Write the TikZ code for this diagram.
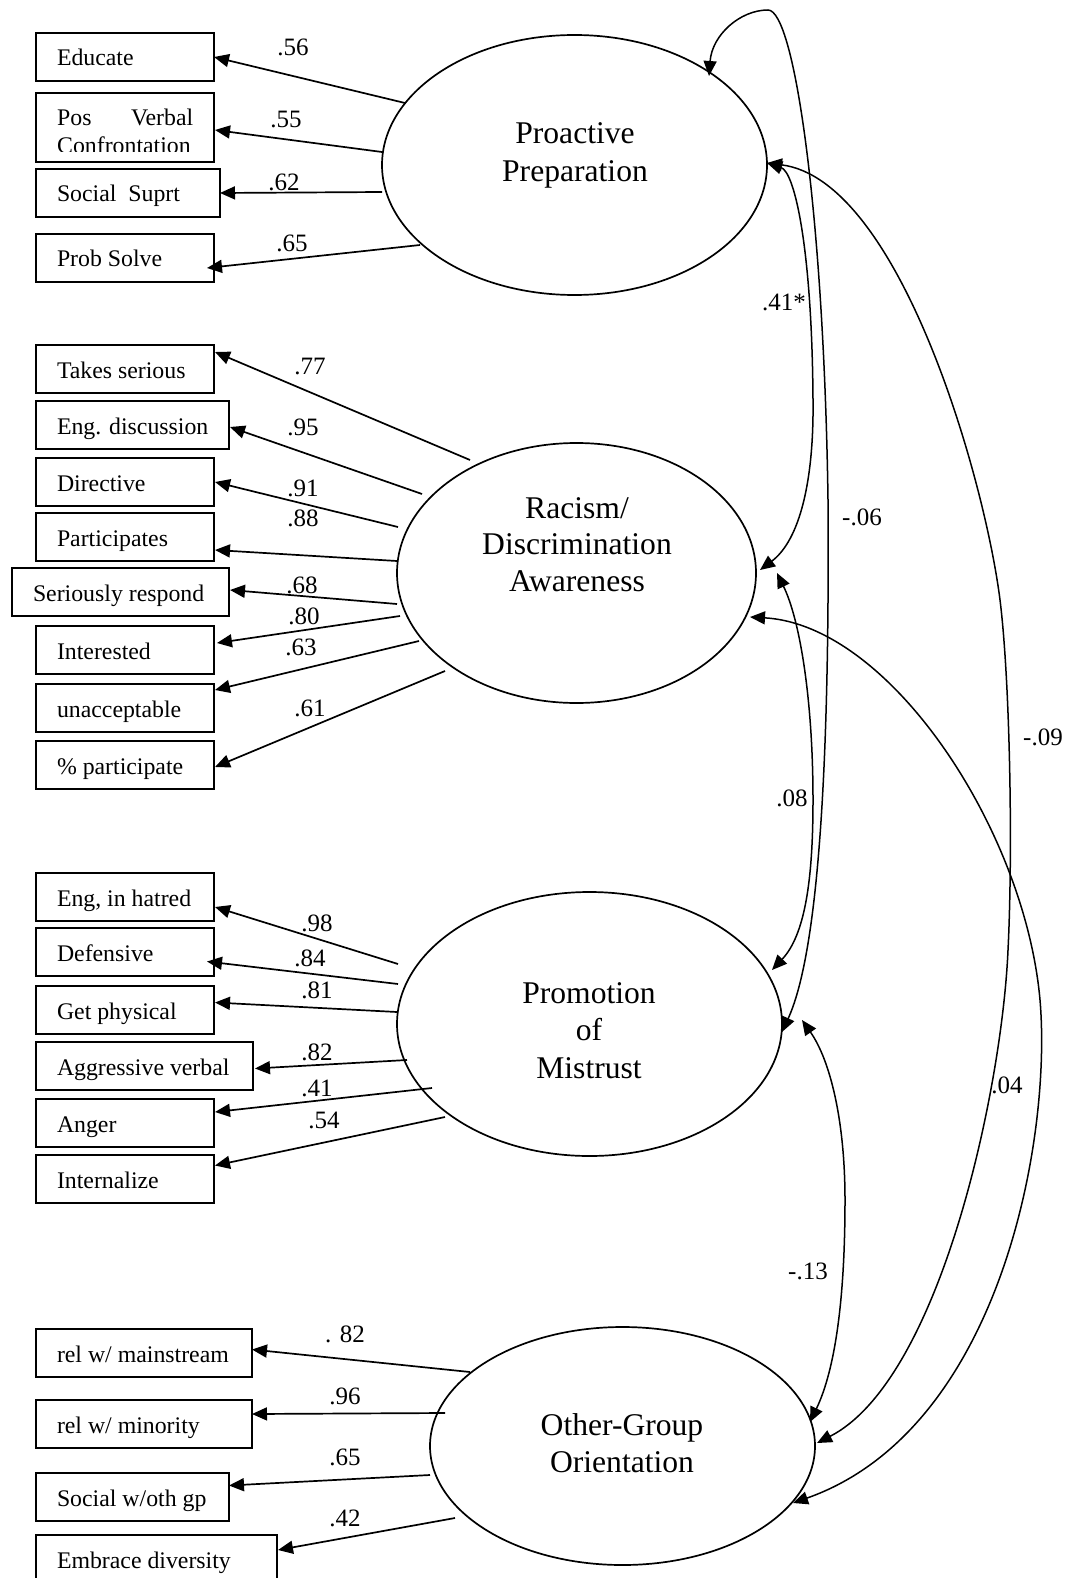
\documentclass[tikz,border=0pt]{standalone}
\usepackage{fontspec}
\setmainfont{Liberation Serif}
\usetikzlibrary{arrows.meta,shapes.geometric}

\newcommand\boxfont{\fontsize{23.8}{29}\selectfont}
\newcommand\latfont{\fontsize{31.6}{37}\selectfont}
\newcommand\coeffont{\fontsize{25}{30}\selectfont}
% indicator box: name, left, top, width, text
\newcommand\indicator[5]{\node[obs] (#1) at (#2,#3) {\makebox[\dimexpr#4pt-42pt\relax][l]{#5}};}

\begin{document}
\begin{tikzpicture}[x=1pt,y=-1pt,
  obs/.style={draw, line width=1.6pt, anchor=north west, inner xsep=21pt, inner ysep=0pt,
    minimum height=48pt, text height=22pt, text depth=4pt, font=\boxfont, outer sep=0pt},
  lat/.style={draw, ellipse, line width=1.7pt, inner sep=0pt, outer sep=0pt},
  latlabel/.style={anchor=base, font=\latfont, inner sep=0pt},
  load/.style={line width=1.7pt, -{Triangle[length=15pt,width=13pt]}},
  cov/.style={line width=1.5pt, {Triangle[length=15pt,width=13pt]}-{Triangle[length=15pt,width=13pt]}},
  coef/.style={font=\coeffont, inner sep=0pt}
]
\useasboundingbox (0,0) rectangle (1072,1578);
\clip (0,0) rectangle (1072,1578);

% ---------- latent factors ----------
\node[lat, minimum width=385pt, minimum height=260pt] (pp) at (574.5,165) {};
\node[latlabel] (pp-l1) at (575,144) {Proactive};
\node[latlabel] (pp-l2) at (575,182) {Preparation};

\node[lat, minimum width=359pt, minimum height=260pt] (rda) at (576.5,573) {};
\node[latlabel] (rda-l1) at (577,518) {Racism/};
\node[latlabel] (rda-l2) at (577,554) {Discrimination};
\node[latlabel] (rda-l3) at (577,591) {Awareness};

\node[lat, minimum width=385pt, minimum height=264pt] (pm) at (589.5,1024) {};
\node[latlabel] (pm-l1) at (589,1003) {Promotion};
\node[latlabel] (pm-l2) at (589,1040) {of};
\node[latlabel] (pm-l3) at (589,1078) {Mistrust};

\node[lat, minimum width=385pt, minimum height=238pt] (og) at (622.5,1446) {};
\node[latlabel] (og-l1) at (622,1435) {Other-Group};
\node[latlabel] (og-l2) at (622,1472) {Orientation};

% ---------- indicators ----------
\indicator{educate}{36}{33}{178}{Educate}
\node[obs, minimum width=178pt, minimum height=69pt] (pvc) at (36,93) {};
\begin{scope}
  \clip (36,93) rectangle (214,152);
  \node[anchor=base west, inner sep=0pt, font=\boxfont] (pvc-l1) at (57,126)
    {\makebox[136pt]{Pos\hfill Verbal}};
  \node[anchor=base west, inner sep=0pt, font=\boxfont] (pvc-l2) at (57,154) {Confrontation};
\end{scope}
\indicator{socsup}{36}{169}{184}{Social\ \ Suprt}
\indicator{probsolve}{36}{234}{178}{Prob Solve}

\indicator{takes}{36}{345}{178}{Takes serious}
\indicator{engdisc}{36}{401}{193}{Eng. discussion}
\indicator{directive}{36}{458}{178}{Directive}
\indicator{particip}{36}{513}{178}{Participates}
\indicator{serresp}{12}{568}{217}{Seriously respond}
\indicator{interest}{36}{626}{178}{Interested}
\indicator{unaccept}{36}{684}{178}{unacceptable}
\indicator{pctpart}{36}{741}{178}{\% participate}

\indicator{hatred}{36}{873}{178}{Eng, in hatred}
\indicator{defens}{36}{928}{178}{Defensive}
\indicator{getphys}{36}{986}{178}{Get physical}
\indicator{aggverb}{36}{1042}{217}{Aggressive verbal}
\indicator{anger}{36}{1099}{178}{Anger}
\indicator{intern}{36}{1155}{178}{Internalize}

\indicator{relmain}{36}{1329}{216}{rel w/ mainstream}
\indicator{relmin}{36}{1400}{216}{rel w/ minority}
\indicator{socoth}{36}{1473}{193}{Social w/oth gp}
\indicator{embrace}{36}{1535}{241}{Embrace diversity}

% ---------- loading origins on the factors ----------
\coordinate (pp1) at (405,103);
\coordinate (pp2) at (382,152);
\coordinate (pp3) at (382,192);
\coordinate (pp4) at (420,245);
\coordinate (rd1) at (470,460);
\coordinate (rd2) at (422,494);
\coordinate (rd3) at (398,527);
\coordinate (rd4) at (397,561);
\coordinate (rd5) at (397,604);
\coordinate (rd6) at (400,616);
\coordinate (rd7) at (419,641);
\coordinate (rd8) at (445,671);
\coordinate (pm1) at (398,964);
\coordinate (pm2) at (398,984);
\coordinate (pm3) at (397,1012);
\coordinate (pm4) at (407,1060);
\coordinate (pm5) at (432,1088);
\coordinate (pm6) at (445,1117);
\coordinate (og1) at (470,1372);
\coordinate (og2) at (445,1413);
\coordinate (og3) at (430,1475);
\coordinate (og4) at (455,1518);

% ---------- loadings ----------
\draw[load] (pp1) -- (educate.east);
\draw[load] (pp2) -- ([shift={(1,2.5)}]pvc.east);
\draw[load] (pp3) -- (socsup.east);
\draw[load] (pp4) -- ([shift={(-7,10)}]probsolve.east);

\draw[load] (rd1) -- ([shift={(1,-17)}]takes.east);
\draw[load] (rd2) -- ([shift={(1,2)}]engdisc.east);
\draw[load] (rd3) -- ([shift={(1,0)}]directive.east);
\draw[load] (rd4) -- ([shift={(1,13)}]particip.east);
\draw[load] (rd5) -- ([shift={(1,-2)}]serresp.east);
\draw[load] (rd6) -- ([shift={(3,-7)}]interest.east);
\draw[load] (rd7) -- ([shift={(1,-18)}]unaccept.east);
\draw[load] (rd8) -- ([shift={(1,2)}]pctpart.east);

\draw[load] (pm1) -- ([shift={(1,10)}]hatred.east);
\draw[load] (pm2) -- ([shift={(-7,9.5)}]defens.east);
\draw[load] (pm3) -- ([shift={(1,-7.5)}]getphys.east);
\draw[load] (pm4) -- ([shift={(2,2.5)}]aggverb.east);
\draw[load] (pm5) -- ([shift={(1,-11)}]anger.east);
\draw[load] (pm6) -- ([shift={(1,-13.5)}]intern.east);

\draw[load] (og1) -- ([shift={(0,-3.5)}]relmain.east);
\draw[load] (og2) -- ([shift={(0,-10)}]relmin.east);
\draw[load] (og3) -- ([shift={(0,-11.5)}]socoth.east);
\draw[load] (og4) -- ([shift={(1,15)}]embrace.north east);

% ---------- loading coefficients ----------
\node[coef] (c01) at (293,47) {.56};
\node[coef] (c02) at (286,119) {.55};
\node[coef] (c03) at (284,182) {.62};
\node[coef] (c04) at (292,243) {.65};
\node[coef] (c05) at (310,366) {.77};
\node[coef] (c06) at (303,427) {.95};
\node[coef] (c07) at (303,488) {.91};
\node[coef] (c08) at (303,518) {.88};
\node[coef] (c09) at (302,585) {.68};
\node[coef] (c10) at (304,616) {.80};
\node[coef] (c11) at (301,647) {.63};
\node[coef] (c12) at (310,708) {.61};
\node[coef] (c13) at (317,923) {.98};
\node[coef] (c14) at (310,958) {.84};
\node[coef] (c15) at (317,990) {.81};
\node[coef] (c16) at (317,1052) {.82};
\node[coef] (c17) at (317,1088) {.41};
\node[coef] (c18) at (324,1120) {.54};
\node[coef] (c19) at (345,1334) {. 82};
\node[coef] (c20) at (345,1396) {.96};
\node[coef] (c21) at (345,1457) {.65};
\node[coef] (c22) at (345,1518) {.42};

% ---------- factor covariances ----------
\coordinate (ppR) at (767,163);
\coordinate (ppT) at (709,76);
\coordinate (rdA) at (760,570);
\coordinate (rdB) at (777,573);
\coordinate (rdC) at (750,617);
\coordinate (pmA) at (772,970);
\coordinate (pmB) at (782,1032);
\coordinate (pmC) at (802,1020);
\coordinate (ogA) at (810,1422);
\coordinate (ogB) at (817,1443);
\coordinate (ogC) at (793,1503);

% Proactive -- Racism
\draw[cov] (ppR) .. controls (795,172) and (812,250) .. (813,400)
                 .. controls (814,480) and (800,540) .. (rdA);
% Proactive -- Promotion
\draw[cov] (ppT) .. controls (712,35) and (740,10) .. (768,10)
                 .. controls (795,10) and (824,220) .. (828,500)
                 .. controls (830,800) and (815,960) .. (pmB);
% Proactive -- Other-Group
\draw[cov] (ppR) .. controls (900,180) and (985,480) .. (1000,600)
                 .. controls (1010,680) and (1013,850) .. (1008,950)
                 .. controls (1002,1090) and (940,1380) .. (ogB);
% Racism -- Promotion
\draw[cov] (rdB) .. controls (800,620) and (813,700) .. (813,800)
                 .. controls (813,880) and (805,935) .. (pmA);
% Racism -- Other-Group
\draw[cov] (rdC) .. controls (890,625) and (1025,830) .. (1040,1000)
                 .. controls (1052,1140) and (1000,1430) .. (ogC);
% Promotion -- Other-Group
\draw[cov] (pmC) .. controls (830,1060) and (845,1120) .. (845,1200)
                 .. controls (845,1300) and (835,1370) .. (ogA);

% ---------- covariance coefficients ----------
\node[coef] (k1) at (784,302) {.41*};
\node[coef] (k2) at (862,517) {-.06};
\node[coef] (k3) at (792,798) {.08};
\node[coef] (k4) at (1043,737) {-.09};
\node[coef] (k5) at (1007,1085) {.04};
\node[coef] (k6) at (808,1271) {-.13};
\end{tikzpicture}
\end{document}
